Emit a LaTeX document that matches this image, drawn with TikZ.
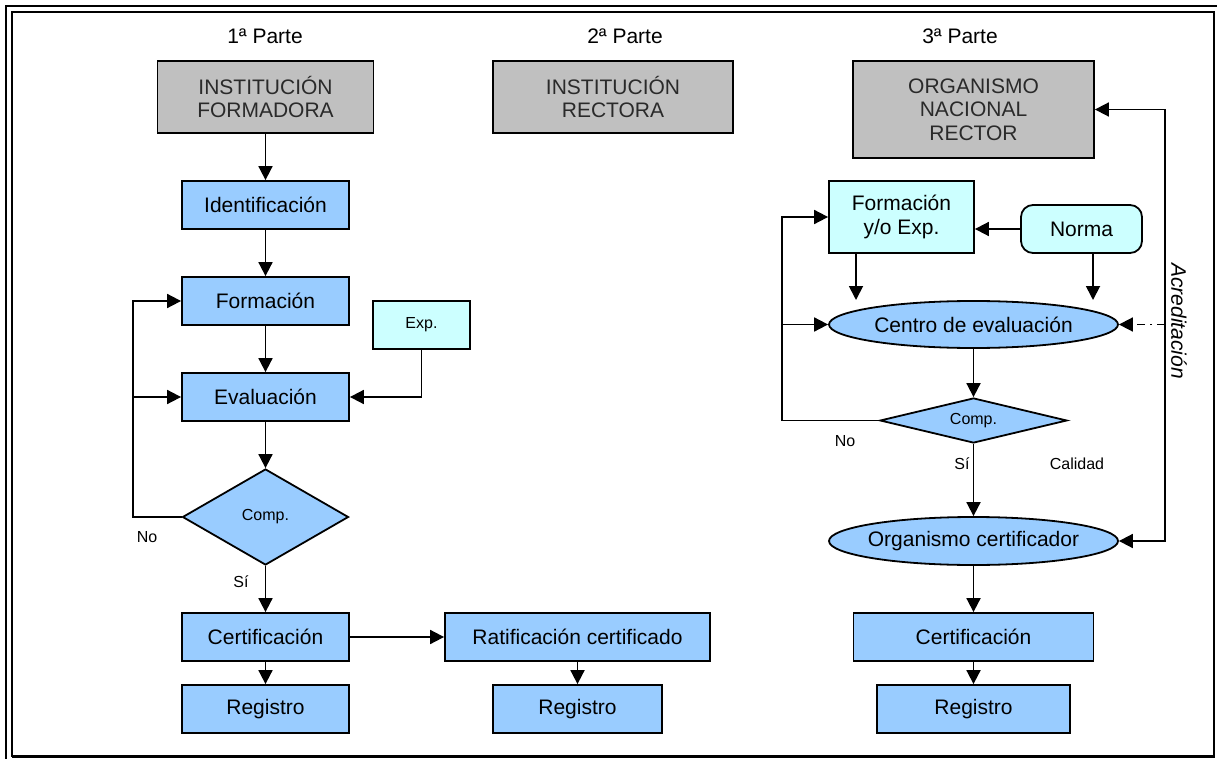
\documentclass[tikz,border=0pt]{standalone}
\usepackage{fontspec}
\setmainfont{Liberation Sans}
\usetikzlibrary{arrows.meta,shapes.geometric}
\definecolor{boxblue}{HTML}{99CCFF}
\definecolor{boxcyan}{HTML}{CCFFFF}
\definecolor{boxgray}{HTML}{C0C0C0}
\definecolor{graytext}{HTML}{2A2A2A}

\begin{document}
\begin{tikzpicture}[x=1pt,y=-1pt,
  every node/.style={font=\fontsize{21}{23.5}\selectfont, inner sep=0pt, align=center},
  boxline/.style={draw=black, line width=1.8pt},
  entity/.style={boxline, fill=boxgray, text=graytext},
  stepbox/.style={boxline, fill=boxblue},
  inbox/.style={boxline, fill=boxcyan},
  oval/.style={boxline, ellipse, fill=boxblue, inner xsep=-25pt},
  decision/.style={boxline, diamond, fill=boxblue, font=\fontsize{16}{18}\selectfont},
  small/.style={font=\fontsize{16}{18}\selectfont},
  tip/.tip={Triangle[length=14pt,width=14pt]},
  flow/.style={line width=1.8pt, -tip},
  both/.style={line width=1.8pt, tip-tip}
]
\useasboundingbox (0,0) rectangle (1217,759);
\fill[white] (0,0) rectangle (1217,759);

% page frame
\draw[line width=2pt] (6,759) -- (6,6) -- (1217,6);
\draw[line width=1.5pt] (12,12) rectangle (1214,756);
\draw[line width=2.5pt] (1214,12) -- (1214,757) -- (12,757);

% column headings
\node (h1) at (265,36) {1ª Parte};
\node (h2) at (625,36) {2ª Parte};
\node (h3) at (960,36) {3ª Parte};

% 1st part
\node[entity, minimum width=216, minimum height=72] (ifor) at (265.5,97) {INSTITUCIÓN\\FORMADORA};
\node[stepbox, minimum width=167, minimum height=48] (ident) at (265.5,205) {Identificación};
\node[stepbox, minimum width=167, minimum height=48] (form) at (265.5,301) {Formación};
\node[stepbox, minimum width=167, minimum height=48] (eval) at (265.5,397) {Evaluación};
\node[inbox, small, minimum width=97, minimum height=48] (exp) at (421.5,325) {Exp.};
\node[decision, minimum width=166, minimum height=96] (comp1) at (265.5,517) {Comp.};
\node[stepbox, minimum width=167, minimum height=48] (cert1) at (265.5,637) {Certificación};
\node[stepbox, minimum width=167, minimum height=48] (reg1) at (265.5,709) {Registro};
\node[small] (no1) at (147,537) {No};
\node[small] (si1) at (241,582) {Sí};

% 2nd part
\node[entity, minimum width=240, minimum height=72] (irec) at (613,97) {INSTITUCIÓN\\RECTORA};
\node[stepbox, minimum width=265, minimum height=48] (rat) at (577.5,637) {Ratificación certificado};
\node[stepbox, minimum width=169, minimum height=48] (reg2) at (577.5,709) {Registro};

% 3rd part
\node[entity, minimum width=241, minimum height=97] (onr) at (973.5,109.5) {ORGANISMO\\NACIONAL\\RECTOR};
\node[inbox, minimum width=145, minimum height=72] (fexp) at (901.5,217) {Formación\\y/o Exp.};
\node[inbox, rounded corners=12pt, minimum width=121, minimum height=48] (norma) at (1081.5,229) {Norma};
\node[oval, minimum width=289, minimum height=47] (centro) at (973.5,324.5) {Centro de evaluación};
\node[decision, shape aspect=4, minimum width=187, minimum height=45] (comp2) at (973.5,420.5) {Comp.};
\node[oval, minimum width=289, minimum height=48] (orgc) at (973.5,541) {Organismo certificador};
\node[stepbox, minimum width=240, minimum height=48] (cert3) at (973.5,637) {Certificación};
\node[stepbox, minimum width=193, minimum height=48] (reg3) at (973.5,709) {Registro};
\node[small] (no2) at (845,441) {No};
\node[small] (si2) at (962,464) {Sí};
\node[small] (cal) at (1077,464) {Calidad};
\node[rotate=-90, font=\fontsize{21}{23.5}\selectfont\itshape] (acrlab) at (1179,321) {Acreditación};

% routing columns
\coordinate (loopA) at (133,0);
\coordinate (loopB) at (782,0);
\coordinate (acr) at (1165,0);
\coordinate (fa) at (856,300);
\coordinate (na) at (1093,300);

% 1st part connectors
\draw[flow] (ifor) -- (ident);
\draw[flow] (ident) -- (form);
\draw[flow] (form) -- (eval);
\draw[flow] (eval) -- (comp1);
\draw[flow] (comp1) -- (cert1);
\draw[flow] (cert1) -- (reg1);
\draw[flow] (exp.south) |- (eval.east);
\draw[flow] (comp1.west) -| (loopA |- form.west) -- (form.west);
\draw[flow] (loopA |- eval.west) -- (eval.west);

% 2nd part connectors
\draw[flow] (cert1) -- (rat);
\draw[flow] (rat) -- (reg2);

% 3rd part connectors
\draw[flow] (norma.west) -- (norma.west -| fexp.east);
\draw[flow] (fexp.south -| fa) -- (fa);
\draw[flow] (norma.south -| na) -- (na);
\draw[flow] (centro) -- (comp2);
\draw[flow] (comp2.west) -| (loopB |- fexp.west) -- (fexp.west);
\draw[flow] (loopB |- centro.west) -- (centro.west);
\draw[flow] (comp2) -- (orgc);
\draw[flow] (orgc) -- (cert3);
\draw[flow] (cert3) -- (reg3);
\draw[both] (onr.east) -- (acr |- onr.east) -- (acr |- orgc.east) -- (orgc.east);
\draw[flow, dash pattern=on 8pt off 5pt on 2pt off 5pt] (acr |- centro.east) -- (centro.east);
\end{tikzpicture}
\end{document}
